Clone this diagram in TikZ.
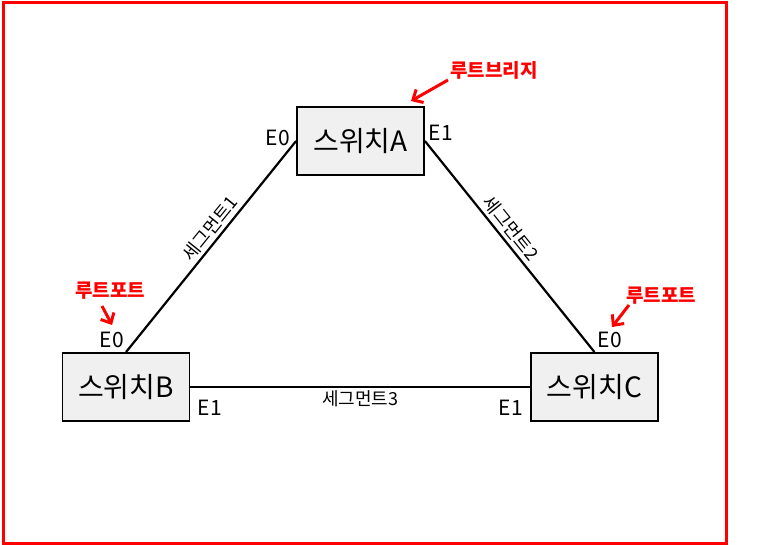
\documentclass[tikz,border=0pt]{standalone}
\usepackage{fontspec}
\setmainfont{Noto Sans CJK KR}
\usetikzlibrary{arrows.meta}

\begin{document}
\begin{tikzpicture}[x=1pt, y=-1pt, switch/.style={draw, line width=1.8pt, fill=black!6, minimum width=127pt, minimum height=68pt, inner sep=0pt, font=\fontsize{28}{32}\selectfont}, port/.style={inner sep=0pt, font=\fontsize{21}{24}\selectfont}, seg/.style={inner sep=3pt, font=\fontsize{18}{21}\selectfont}, note/.style={inner sep=0pt, text=red, font=\bfseries\fontsize{19}{22}\selectfont}, ptr/.style={red, line width=3pt, -{Straight Barb[length=8pt, width=15pt]}}, link/.style={line width=2.2pt}]
\useasboundingbox (0,0) rectangle (773,545);
\draw [red, line width=3pt] (3,3) rectangle (726,543);
% switches
\node[switch] (A) at (360.5,141) {스위치A};
\node[switch] (B) at (126,387) {스위치B};
\node[switch] (C) at (594.5,387) {스위치C};
% ports
\node[port] (a0) at (278,138) {E0};
\node[port] (a1) at (441,133) {E1};
\node[port] (b0) at (112,340) {E0};
\node[port] (b1) at (210,408) {E1};
\node[port] (c0) at (610,340) {E0};
\node[port] (c1) at (511,408) {E1};
% links
\draw[link] (B.north) -- node[seg, sloped, above, pos=0.55] {세그먼트1} (A.west);
\draw[link] (A.east) -- node[seg, sloped, above, pos=0.45] {세그먼트2} (C.north);
\draw[link] (B.east) -- node[seg, below] {세그먼트3} (C.west);
% root notes
\node[note] (rb) at (494,70) {루트브리지};
\node[note] (rpb) at (110,291) {루트포트};
\node[note] (rpc) at (661,296) {루트포트};
\coordinate (rbs) at (448,80);
\coordinate (rbt) at (411,101);
\coordinate (rpbs) at (102,306);
\coordinate (rpbt) at (112,325);
\coordinate (rpcs) at (629,305);
\coordinate (rpct) at (612,327);
\path[ptr]
(rbs) edge (rbt)
(rpbs) edge (rpbt)
(rpcs) edge (rpct);
\end{tikzpicture}
\end{document}
